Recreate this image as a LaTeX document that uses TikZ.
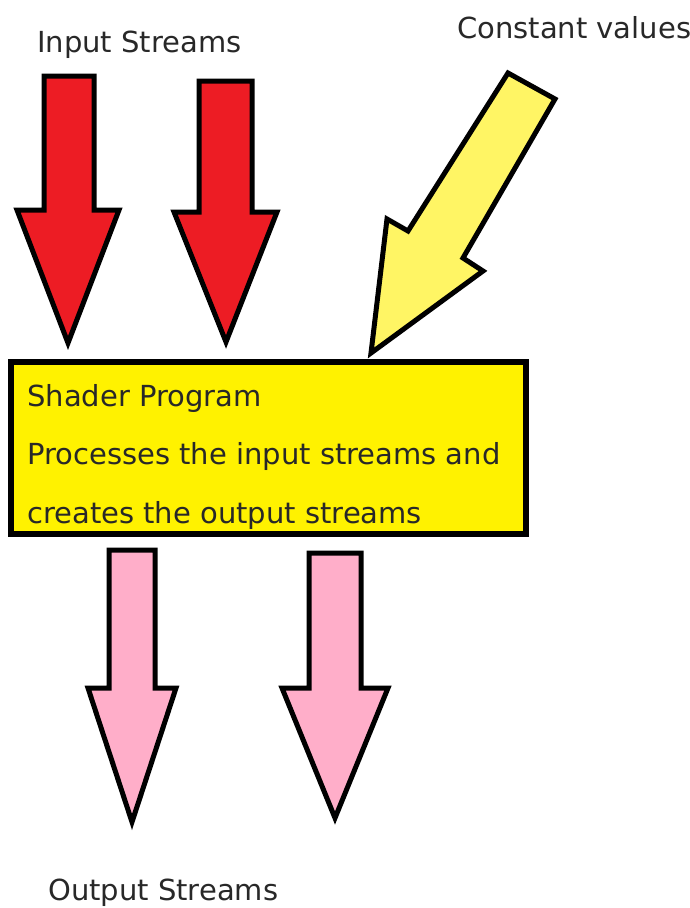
\documentclass[tikz,border=0pt]{standalone}
\usepackage{fontspec}
\setmainfont{DejaVu Sans}
\definecolor{redfill}{RGB}{237,28,36}
\definecolor{boxfill}{RGB}{255,242,0}
\definecolor{lightyellow}{RGB}{255,245,100}
\definecolor{pinkfill}{RGB}{255,174,201}
\definecolor{textcol}{RGB}{40,40,40}
\tikzset{
  blockarrow/.style={draw=black, line width=5pt, line join=miter, miter limit=20},
  lbl/.style={inner sep=0pt, anchor=base west, text=textcol, font=\fontsize{29}{34}\selectfont},
  procbox/.style={draw=black, fill=boxfill, line width=6pt}
}
\begin{document}
\begin{tikzpicture}[x=1pt,y=-1pt]
\useasboundingbox (0,0) rectangle (690,908);
\fill[white] (0,0) rectangle (690,908);
% input arrows
\draw[blockarrow, fill=redfill] (44,76) -- (94,76) -- (94,210) -- (119,210) -- (68,343) -- (17,210) -- (44,210) -- cycle;
\draw[blockarrow, fill=redfill] (199,81) -- (252,81) -- (252,212) -- (277,212) -- (226,342) -- (174,212) -- (199,212) -- cycle;
% constant arrow
\draw[blockarrow, fill=lightyellow] (508,73) -- (555,99) -- (463,258) -- (483,271) -- (371,353) -- (387,219) -- (408,231) -- cycle;
% output arrows
\draw[blockarrow, fill=pinkfill] (109,550) -- (155,550) -- (155,688) -- (176,688) -- (132,822) -- (88,688) -- (109,688) -- cycle;
\draw[blockarrow, fill=pinkfill] (309,553) -- (361,553) -- (361,688) -- (388,688) -- (335,818) -- (282,688) -- (309,688) -- cycle;
% box
\draw[procbox] (11,362) rectangle (526,534);
\node[lbl] (l1) at (27,406) {Shader Program};
\node[lbl] (l2) at (27,464) {Processes the input streams and};
\node[lbl] (l3) at (27,523) {creates the output streams};
% labels
\node[lbl] (inp) at (37,52) {Input Streams};
\node[lbl] (const) at (457,38) {Constant values};
\node[lbl] (outp) at (48,900) {Output Streams};
\end{tikzpicture}
\end{document}
